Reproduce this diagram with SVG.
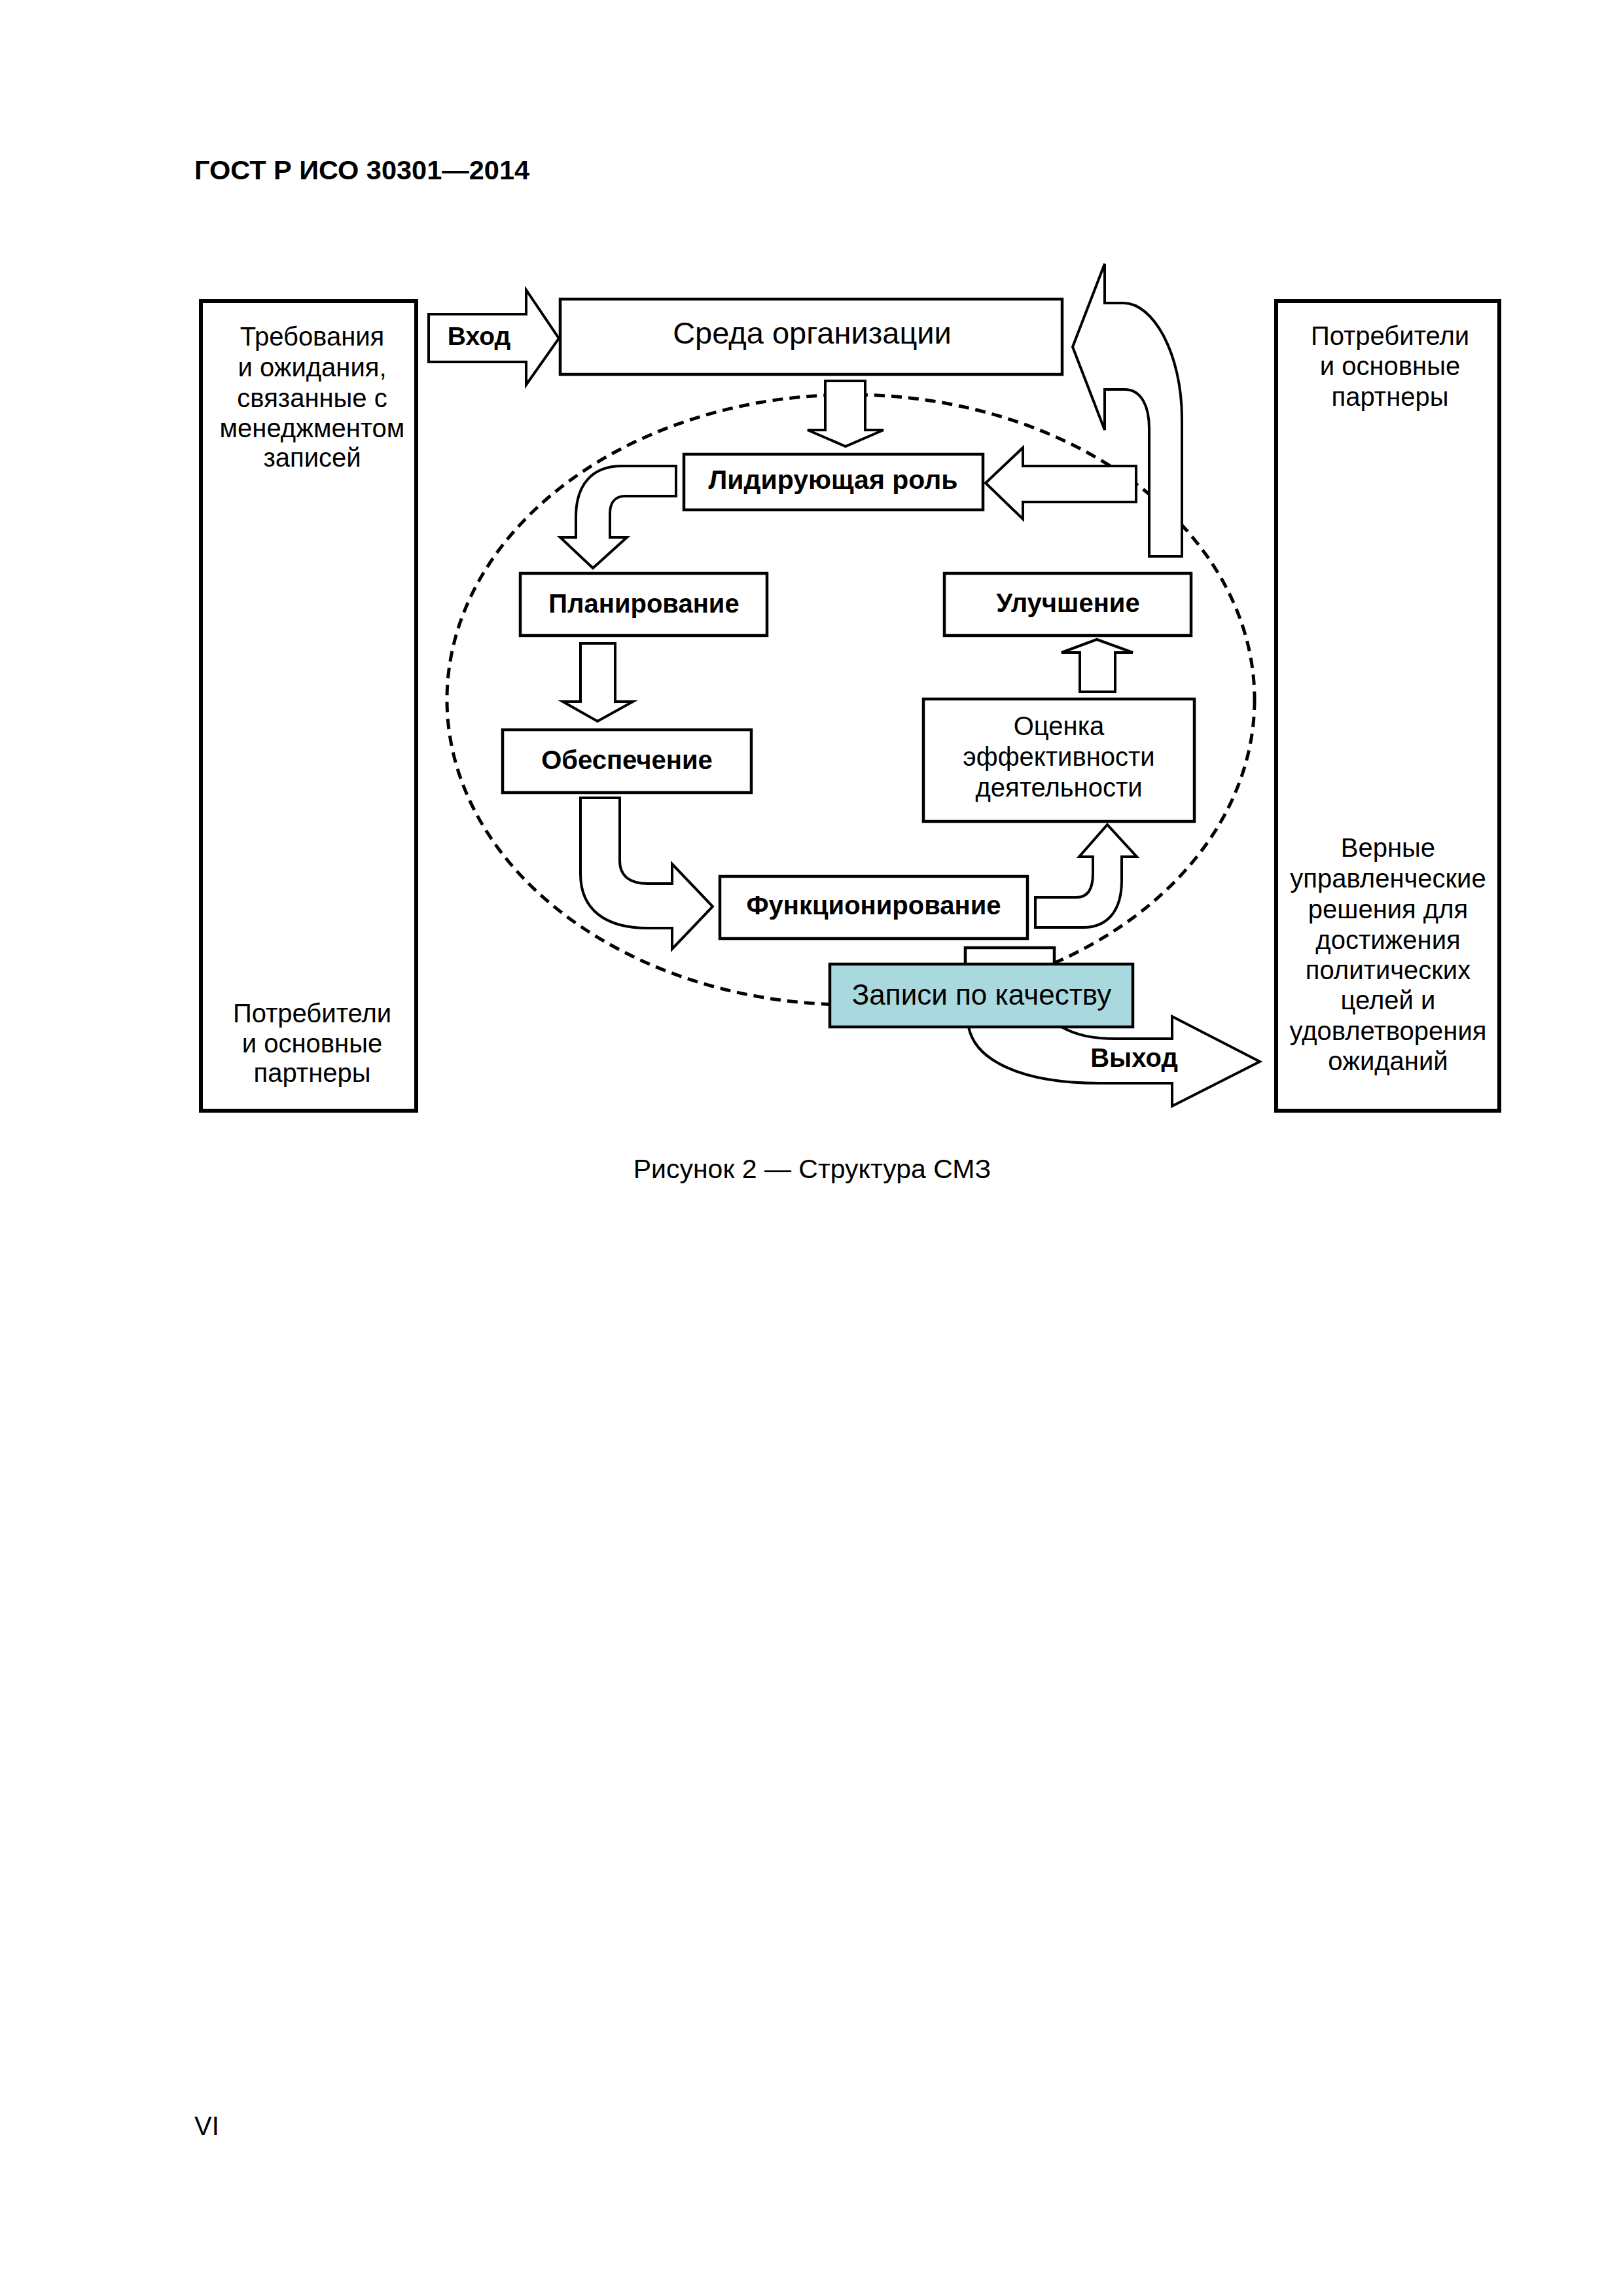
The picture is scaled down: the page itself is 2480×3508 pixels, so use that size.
<svg xmlns="http://www.w3.org/2000/svg" width="2480" height="3508" viewBox="0 0 2480 3508">
<style>
  text { font-family: "Liberation Sans", Arial, sans-serif; fill: #000; }
  .t { font-size: 40px; text-anchor: middle; }
  .b { font-size: 40px; font-weight: bold; text-anchor: middle; }
  .box { fill: #fff; stroke: #000; stroke-width: 4.5; }
  .side { fill: #fff; stroke: #000; stroke-width: 6; }
  .arr { fill: #fff; stroke: #000; stroke-width: 4; stroke-linejoin: miter; }
  .dash { fill: none; stroke: #000; stroke-width: 5; stroke-dasharray: 16 10; }
</style>
<rect width="2480" height="3508" fill="#fff"/>
<text x="297" y="274" style="font-size:41.5px;font-weight:bold">ГОСТ Р ИСО 30301—2014</text>

<g id="boundary">
  <ellipse class="dash" cx="1300" cy="1069" rx="617" ry="466"/>
</g>

<g id="connectors">
  <path id="arrow-input" class="arr" d="M655,480 L804,480 L804,443 L854,517 L804,588 L804,553 L655,553 Z"/>
  <text x="732" y="527" style="font-size:39px;font-weight:bold;text-anchor:middle">Вход</text>
  <path id="arrow-env-lead" class="arr" d="M1261,582 L1322,582 L1322,657 L1350,657 L1292,682 L1234,657 L1261,657 Z"/>
  <path id="arrow-improve-env" class="arr" d="M1806,850 L1806,640 C1806,540 1762,463 1717,463 L1688,463 L1688,403 L1639,530 L1688,657 L1688,595 L1718,595 C1745,595 1756,622 1756,655 L1756,850 Z"/>
  <path id="arrow-improve-lead" class="arr" d="M1736,712 L1563,712 L1563,684 L1506,738 L1563,793 L1563,767 L1736,767 Z"/>
  <path id="arrow-lead-plan" class="arr" d="M1033,712 L950,712 C905,712 880,740 880,790 L880,821 L856,821 L906,868 L958,821 L932,821 L932,785 C932,768 940,758 955,758 L1033,758 Z"/>
  <path id="arrow-plan-support" class="arr" d="M887,983 L940,983 L940,1072 L967,1072 L913,1102 L860,1072 L887,1072 Z"/>
  <path id="arrow-support-op" class="arr" d="M887,1219 L887,1335 C887,1390 925,1418 990,1418 L1027,1418 L1027,1450 L1089,1385 L1027,1320 L1027,1350 L990,1350 C962,1350 947,1338 947,1315 L947,1219 Z"/>
  <path id="arrow-op-eval" class="arr" d="M1582,1371 L1645,1371 C1662,1371 1670,1358 1670,1335 L1670,1309 L1649,1309 L1692,1260 L1737,1309 L1714,1309 L1714,1345 C1714,1392 1692,1417 1655,1417 L1582,1417 Z"/>
  <path id="arrow-eval-improve" class="arr" d="M1650,1057 L1650,997 L1622,997 L1676,977 L1731,997 L1704,997 L1704,1057 Z"/>
  <path id="arrow-output" class="arr" d="M1622,1569 C1645,1582 1670,1587 1705,1587 L1791,1587 L1791,1553 L1925,1622 L1791,1690 L1791,1655 L1680,1655 C1560,1655 1490,1620 1480,1569 Z"/>
  <text x="1733" y="1630" style="font-size:40px;font-weight:bold;text-anchor:middle">Выход</text>
</g>

<g id="node-requirements">
  <rect class="side" x="307" y="460" width="329" height="1237"/>
  <text class="t" x="477" y="528">Требования</text>
  <text class="t" x="477" y="575">и ожидания,</text>
  <text class="t" x="477" y="622">связанные с</text>
  <text class="t" x="477" y="668">менеджментом</text>
  <text class="t" x="477" y="713">записей</text>
  <text class="t" x="477" y="1562">Потребители</text>
  <text class="t" x="477" y="1608">и основные</text>
  <text class="t" x="477" y="1653">партнеры</text>
</g>

<g id="node-results">
  <rect class="side" x="1950" y="460" width="341" height="1237"/>
  <text class="t" x="2124" y="527">Потребители</text>
  <text class="t" x="2124" y="573">и основные</text>
  <text class="t" x="2124" y="620">партнеры</text>
  <text class="t" x="2121" y="1309">Верные</text>
  <text class="t" x="2121" y="1356">управленческие</text>
  <text class="t" x="2121" y="1403">решения для</text>
  <text class="t" x="2121" y="1450">достижения</text>
  <text class="t" x="2121" y="1496">политических</text>
  <text class="t" x="2121" y="1542">целей и</text>
  <text class="t" x="2121" y="1589">удовлетворения</text>
  <text class="t" x="2121" y="1635">ожиданий</text>
</g>

<g id="node-context">
  <rect class="box" x="856" y="457" width="767" height="115"/>
  <text x="1241" y="525" style="font-size:47px;text-anchor:middle">Среда организации</text>
</g>

<g id="node-leadership">
  <rect class="box" x="1045" y="694" width="457" height="85"/>
  <text class="b" x="1273" y="747" style="font-size:41px">Лидирующая роль</text>
</g>

<g id="node-planning">
  <rect class="box" x="795" y="876" width="377" height="95"/>
  <text class="b" x="984" y="936">Планирование</text>
</g>

<g id="node-support">
  <rect class="box" x="768" y="1115" width="380" height="96"/>
  <text class="b" x="958" y="1175">Обеспечение</text>
</g>

<g id="node-operation">
  <rect class="box" x="1100" y="1339" width="470" height="95"/>
  <text class="b" x="1335" y="1397">Функционирование</text>
</g>

<g id="node-evaluation">
  <rect class="box" x="1411" y="1068" width="414" height="187"/>
  <text class="t" x="1618" y="1123">Оценка</text>
  <text class="t" x="1618" y="1170">эффективности</text>
  <text class="t" x="1618" y="1217">деятельности</text>
</g>

<g id="node-improvement">
  <rect class="box" x="1443" y="876" width="377" height="95"/>
  <text class="b" x="1632" y="935">Улучшение</text>
</g>

<g id="node-records">
  <rect class="box" x="1475" y="1448" width="136" height="27"/>
  <rect x="1268" y="1473" width="463" height="96" fill="#a9d9de" stroke="#000" stroke-width="4.5"/>
  <text x="1500" y="1535" style="font-size:44px;text-anchor:middle">Записи по качеству</text>
</g>

<text class="t" x="1241" y="1800" style="font-size:41px">Рисунок 2 — Структура СМЗ</text>
<text x="297" y="3262" style="font-size:40px">VI</text>
</svg>
